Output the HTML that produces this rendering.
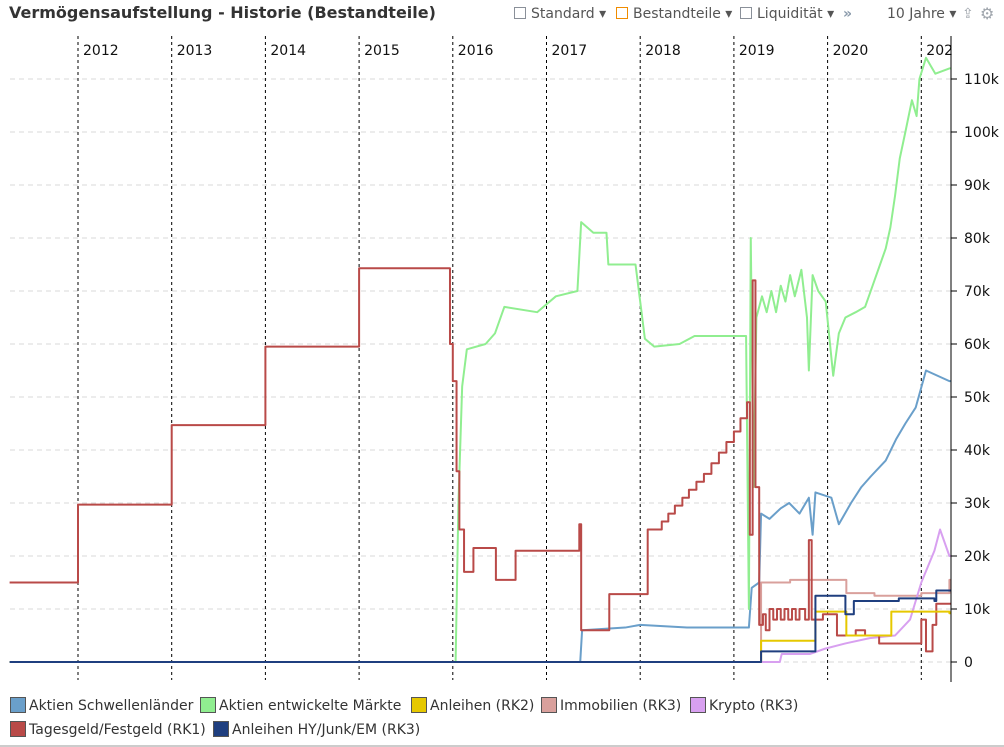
<!DOCTYPE html>
<html><head><meta charset="utf-8"><style>
body{margin:0;background:#fff;font-family:"DejaVu Sans","Liberation Sans",sans-serif;}
#wrap{position:relative;width:1004px;height:747px;overflow:hidden;border-bottom:2px solid #ccc;box-sizing:border-box}
.title{position:absolute;left:9px;top:3px;font-size:16px;font-weight:bold;color:#333}
.tb{position:absolute;top:6px;font-size:14px;color:#555}
.cb{display:inline-block;width:10px;height:10px;border:1px solid #8a9099;margin-right:5px;vertical-align:-1px}
.leg{position:absolute;font-size:14px;color:#333;white-space:nowrap}
.sw{display:inline-block;width:16px;height:16px;border:1px solid #555;box-sizing:border-box;vertical-align:-3px;margin-right:3px}
</style></head><body>
<div id="wrap">
<div class="title">Vermögensaufstellung - Historie (Bestandteile)</div>
<div class="tb" style="left:514px"><span class="cb"></span>Standard ▾</div>
<div class="tb" style="left:616px"><span class="cb" style="border-color:#f08c00"></span>Bestandteile ▾</div>
<div class="tb" style="left:740px"><span class="cb"></span>Liquidität ▾</div>
<div class="tb" style="left:843px;color:#8a9aab;font-weight:bold">»</div>
<div class="tb" style="left:887px">10 Jahre ▾</div>
<div class="tb" style="left:962px;color:#a0a6ad">⇪</div>
<div class="tb" style="left:980px;color:#a0a6ad;font-size:16px;top:4px">⚙</div>
<svg id="svg" width="1004" height="747" style="position:absolute;left:0;top:0"></svg>
<div class="leg" style="left:10px;top:697px"><span class="sw" style="background:#6a9fca"></span>Aktien Schwellenländer</div>
<div class="leg" style="left:200px;top:697px"><span class="sw" style="background:#90ee90"></span>Aktien entwickelte Märkte</div>
<div class="leg" style="left:411px;top:697px"><span class="sw" style="background:#e6c800"></span>Anleihen (RK2)</div>
<div class="leg" style="left:541px;top:697px"><span class="sw" style="background:#d9a09c"></span>Immobilien (RK3)</div>
<div class="leg" style="left:690px;top:697px"><span class="sw" style="background:#d8a0f0"></span>Krypto (RK3)</div>
<div class="leg" style="left:10px;top:721px"><span class="sw" style="background:#b94a48"></span>Tagesgeld/Festgeld (RK1)</div>
<div class="leg" style="left:213px;top:721px"><span class="sw" style="background:#1f3f7f"></span>Anleihen HY/Junk/EM (RK3)</div>
</div>
<script>
const years=[2012,2013,2014,2015,2016,2017,2018,2019,2020,2021];
const yearLabels=["2012","2013","2014","2015","2016","2017","2018","2019","2020","202"];
const yTicks=[0,10,20,30,40,50,60,70,80,90,100,110];
const yTickLabels=["0","10k","20k","30k","40k","50k","60k","70k","80k","90k","100k","110k"];
const tagesgeld=[[2011.27,15],[2012.0,29.7],[2013.0,44.7],[2014.0,59.5],[2015.0,74.3],[2015.97,60],[2016.0,53],[2016.04,36],[2016.07,25],[2016.12,17],[2016.22,21.5],[2016.46,15.5],[2016.67,21],[2017.35,26],[2017.37,6],[2017.67,12.8],[2018.08,25],[2018.23,26.5],[2018.3,28],[2018.37,29.5],[2018.45,31],[2018.52,32.5],[2018.6,34],[2018.68,35.5],[2018.76,37.5],[2018.84,39.5],[2018.92,41.5],[2019.0,43.5],[2019.07,46],[2019.14,49],[2019.17,24],[2019.2,72],[2019.23,33],[2019.27,7],[2019.31,9],[2019.34,6],[2019.38,10],[2019.42,8],[2019.46,10],[2019.5,8],[2019.54,10],[2019.58,8],[2019.62,10],[2019.66,8],[2019.7,10],[2019.76,8],[2019.8,23],[2019.83,8],[2019.95,9],[2020.1,5],[2020.3,6],[2020.4,5],[2020.55,3.5],[2020.9,3.5],[2021.0,8],[2021.05,2],[2021.12,7],[2021.16,11],[2021.3,11]];
const entwickelt=[[2011.27,0],[2016.03,0],[2016.06,30],[2016.1,52],[2016.15,59],[2016.35,60],[2016.45,62],[2016.55,67],[2016.9,66],[2017.1,69],[2017.33,70],[2017.37,83],[2017.5,81],[2017.64,81],[2017.66,75],[2017.95,75],[2018.05,61],[2018.15,59.5],[2018.42,60],[2018.58,61.5],[2019.13,61.5],[2019.16,10],[2019.18,80],[2019.21,33],[2019.24,65],[2019.3,69],[2019.35,66],[2019.4,70],[2019.45,66],[2019.5,71],[2019.55,68],[2019.6,73],[2019.65,69],[2019.72,74],[2019.78,65],[2019.8,55],[2019.84,73],[2019.9,70],[2019.98,68],[2020.06,54],[2020.12,62],[2020.19,65],[2020.3,66],[2020.4,67],[2020.5,72],[2020.56,75],[2020.62,78],[2020.67,82],[2020.72,88],[2020.77,95],[2020.83,100],[2020.9,106],[2020.95,103],[2020.98,110],[2021.05,114],[2021.15,111],[2021.3,112]];
const schwellen=[[2011.27,0],[2017.36,0],[2017.38,6],[2017.84,6.5],[2018.0,7],[2018.5,6.5],[2019.16,6.5],[2019.19,14],[2019.27,15],[2019.29,28],[2019.38,27],[2019.5,29],[2019.59,30],[2019.7,28],[2019.8,31],[2019.84,24],[2019.87,32],[2020.04,31],[2020.12,26],[2020.25,30],[2020.36,33],[2020.46,35],[2020.62,38],[2020.73,42],[2020.83,45],[2020.94,48],[2021.05,55],[2021.3,53]];
const anleihenRK2=[[2011.27,0],[2019.28,0],[2019.29,4],[2019.86,4],[2019.87,9.5],[2020.19,9.5],[2020.2,5],[2020.67,5],[2020.68,9.5],[2021.3,9.2]];
const immobilien=[[2011.27,0],[2019.28,0],[2019.29,15],[2019.6,15.5],[2020.1,15.5],[2020.2,13],[2020.5,12.5],[2020.8,12.5],[2021.0,13],[2021.3,15.5]];
const krypto=[[2011.27,0],[2019.49,0],[2019.51,1.5],[2019.81,1.5],[2019.97,2.5],[2020.19,3.5],[2020.45,4.5],[2020.72,5],[2020.88,8],[2021.0,15],[2021.14,21],[2021.2,25],[2021.3,20]];
const anleihenHY=[[2011.27,0],[2019.28,0],[2019.29,2],[2019.86,2],[2019.87,12.5],[2020.1,12.5],[2020.19,9],[2020.28,11.5],[2020.76,12],[2021.14,11.5],[2021.16,13.5],[2021.3,13.5]];
const series=[["immobilien",immobilien,"#d9a09c",1],["krypto",krypto,"#d8a0f0",0],["schwellen",schwellen,"#6a9fca",0],["entwickelt",entwickelt,"#90ee90",0],["tagesgeld",tagesgeld,"#b94a48",1],["anleihen-rk2",anleihenRK2,"#e6c800",1],["anleihen-hy",anleihenHY,"#1f3f7f",1]];
const X=t=>78+(t-2012)*93.7, Y=v=>662-v*5.3;
const svg=document.getElementById('svg'),NS="http://www.w3.org/2000/svg";
function mk(tag,a){const e=document.createElementNS(NS,tag);for(const k in a)e.setAttribute(k,a[k]);svg.appendChild(e);return e;}
yTicks.forEach((v,i)=>{
 const l=mk('line',{x1:10,x2:951,y1:Y(v),y2:Y(v),stroke:'#d8d8d8','stroke-dasharray':'5,4'});
 
 
 const tk=mk('line',{x1:951,x2:957,y1:Y(v),y2:Y(v),stroke:'#000'});
 
 
 const t=mk('text',{x:964,y:Y(v)+5,'font-size':14,fill:'#111','font-family':'DejaVu Sans,Liberation Sans,sans-serif'});
 t.textContent=yTickLabels[i];
 
 
});
years.forEach((y,i)=>{
 const l=mk('line',{x1:X(y),x2:X(y),y1:36,y2:680,stroke:'#000','stroke-dasharray':'3,3'});
 
 
 const t=mk('text',{x:X(y)+5,y:55,'font-size':14,fill:'#111','font-family':'DejaVu Sans,Liberation Sans,sans-serif'});
 t.textContent=yearLabels[i];
 
 
});
series.forEach(([n,d,c,step])=>{
 let p='M'+X(d[0][0])+','+Y(d[0][1]);
 for(let i=1;i<d.length;i++){p+= step?('H'+X(d[i][0])+'V'+Y(d[i][1])):('L'+X(d[i][0])+','+Y(d[i][1]));}
 p+='H951';
 const e=mk('path',{d:p,fill:'none',stroke:c,'stroke-width':2,'stroke-linejoin':'round'});
 
 
});
const ax=mk('line',{x1:951,x2:951,y1:36,y2:682,stroke:'#000'});


</script>
</body></html>
